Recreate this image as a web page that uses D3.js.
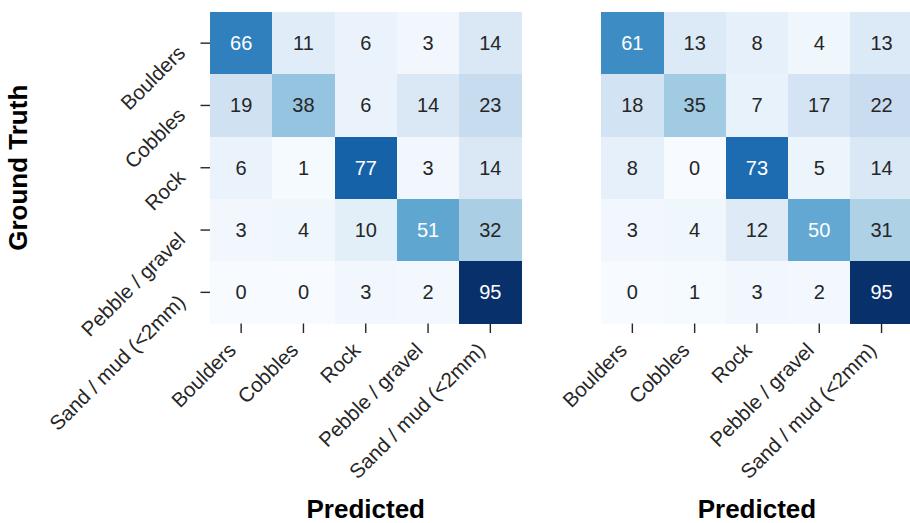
<!DOCTYPE html>
<html>
<head>
<meta charset="utf-8">
<script src="https://cdn.jsdelivr.net/npm/d3@7"></script>
<style>
  html, body { margin: 0; padding: 0; background: #fff; }
  svg { display: block; font-family: "Liberation Sans", Arial, Helvetica, sans-serif; }
</style>
</head>
<body>
<svg id="chart" width="910" height="523"></svg>
<script>
// Class labels (rows = ground truth, columns = prediction)
const classes = ["Boulders", "Cobbles", "Rock", "Pebble / gravel", "Sand / mud (<2mm)"];

// Row-normalised confusion matrices (percent)
const matrixA = [
  [66, 11,  6,  3, 14],
  [19, 38,  6, 14, 23],
  [ 6,  1, 77,  3, 14],
  [ 3,  4, 10, 51, 32],
  [ 0,  0,  3,  2, 95]
];
const matrixB = [
  [61, 13,  8,  4, 13],
  [18, 35,  7, 17, 22],
  [ 8,  0, 73,  5, 14],
  [ 3,  4, 12, 50, 31],
  [ 0,  1,  3,  2, 95]
];

const xTitle = "Predicted";
const yTitle = "Ground Truth";

// Sequential "Blues" ramp, piecewise-linear between the ColorBrewer stops
const bluesStops = ["#f7fbff", "#deebf7", "#c6dbef", "#9ecae1", "#6baed6",
                    "#4292c6", "#2171b5", "#08519c", "#08306b"];

const svg = d3.select("#chart");
const ink = "#262626";
const side = 311.5;           // side length of each heatmap
const panelTop = 12;
const panelsX = [210, 601.2];

function luminance(c) {
  const rgb = d3.rgb(c);
  const lin = v => { v /= 255; return v <= 0.03928 ? v / 12.92 : Math.pow((v + 0.055) / 1.055, 2.4); };
  return 0.2126 * lin(rgb.r) + 0.7152 * lin(rgb.g) + 0.0722 * lin(rgb.b);
}

function drawPanel(matrix, x0, showY) {
  const flat = matrix.flat();
  const vmin = d3.min(flat), vmax = d3.max(flat);
  const color = d3.scaleLinear()
    .domain(bluesStops.map((_, i) => vmin + (vmax - vmin) * i / (bluesStops.length - 1)))
    .range(bluesStops)
    .interpolate(d3.interpolateRgb)
    .clamp(true);

  const x = d3.scaleBand().domain(classes).range([0, side]);
  const y = d3.scaleBand().domain(classes).range([0, side]);

  const g = svg.append("g").attr("transform", `translate(${x0},${panelTop})`);

  const cells = [];
  matrix.forEach((row, i) => row.forEach((v, j) => cells.push({ r: classes[i], c: classes[j], v })));

  g.selectAll("rect.cell").data(cells).join("rect")
    .attr("class", "cell")
    .attr("x", d => x(d.c))
    .attr("y", d => y(d.r))
    .attr("width", x.bandwidth() + 0.5)
    .attr("height", y.bandwidth() + 0.5)
    .attr("fill", d => color(d.v))
    .attr("shape-rendering", "crispEdges");

  g.selectAll("text.val").data(cells).join("text")
    .attr("class", "val")
    .attr("x", d => x(d.c) + x.bandwidth() / 2)
    .attr("y", d => y(d.r) + y.bandwidth() / 2)
    .attr("text-anchor", "middle")
    .attr("dominant-baseline", "central")
    .attr("font-size", 20)
    .attr("fill", d => luminance(color(d.v)) > 0.408 ? ink : "#ffffff")
    .text(d => d.v);

  // bottom axis: predicted class
  const xa = g.append("g").attr("transform", `translate(0,${side})`)
    .call(d3.axisBottom(x).tickSize(9.5).tickSizeOuter(0));
  xa.select(".domain").remove();
  xa.attr("font-family", null);
  xa.selectAll(".tick line").attr("stroke", ink).attr("stroke-width", 1.4);
  xa.selectAll(".tick text")
    .attr("fill", ink)
    .attr("font-size", 20.5)
    .attr("text-anchor", "end")
    .attr("dy", null)
    .attr("y", null)
    .attr("transform", "translate(-4,28) rotate(-45)");

  svg.append("text")
    .attr("x", x0 + side / 2)
    .attr("y", 518)
    .attr("text-anchor", "middle")
    .attr("font-size", 26)
    .attr("font-weight", "bold")
    .attr("fill", "#000")
    .text(xTitle);

  if (showY) {
    const ya = g.append("g").call(d3.axisLeft(y).tickSize(9.5).tickSizeOuter(0));
    ya.select(".domain").remove();
    ya.attr("font-family", null);
    ya.selectAll(".tick line").attr("stroke", ink).attr("stroke-width", 1.4);
    ya.selectAll(".tick text")
      .attr("fill", ink)
      .attr("font-size", 20.5)
      .attr("text-anchor", "end")
      .attr("dy", null)
      .attr("x", null)
      .attr("transform", "translate(-23.5,11) rotate(-45)");

    svg.append("text")
      .attr("transform", `translate(27,${panelTop + side / 2}) rotate(-90)`)
      .attr("text-anchor", "middle")
      .attr("font-size", 26)
      .attr("font-weight", "bold")
      .attr("fill", "#000")
      .text(yTitle);
  }
}

drawPanel(matrixA, panelsX[0], true);
drawPanel(matrixB, panelsX[1], false);
</script>
</body>
</html>
